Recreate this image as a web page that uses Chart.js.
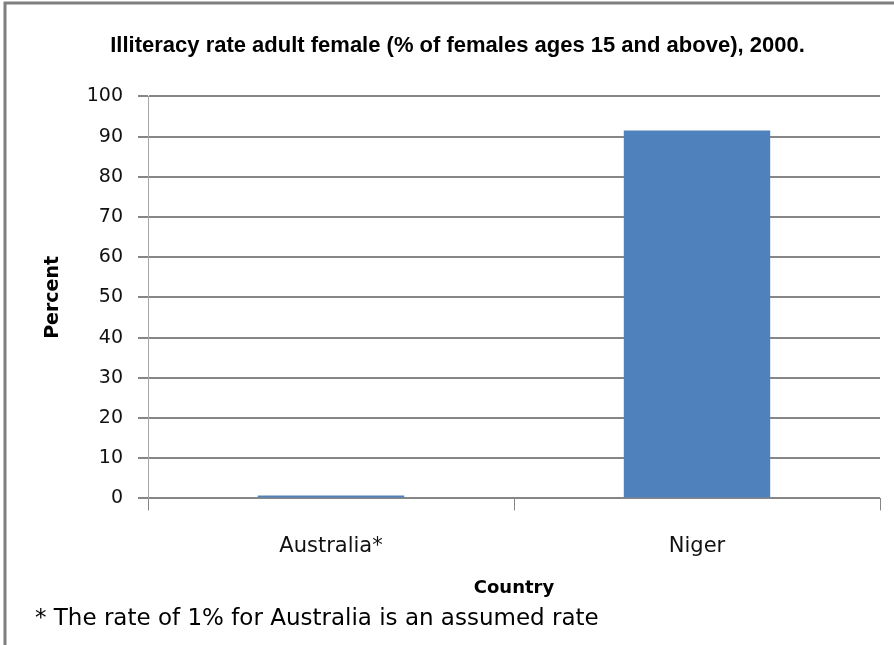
<!DOCTYPE html>
<html>
<head>
<meta charset="utf-8">
<script src="https://cdn.jsdelivr.net/npm/chart.js@4/dist/chart.umd.min.js"></script>
<style>
  html, body { margin: 0; padding: 0; background: #fff; }
  #wrap { width: 894px; height: 645px; }
</style>
</head>
<body>
<div id="wrap"><canvas id="chart" width="894" height="645"></canvas></div>
<script>
// data
const countries = ["Australia*", "Niger"];
const illiteracyRate = [0.7, 91.5];
const yTicks = [0, 10, 20, 30, 40, 50, 60, 70, 80, 90, 100];

const chartTitle = "Illiteracy rate adult female (% of females ages 15 and above), 2000.";
const footnote = "* The rate of 1% for Australia is an assumed rate";

const FONT = "'DejaVu Sans', Verdana, sans-serif";
const TITLE_FONT = "'Liberation Sans', Arial, sans-serif";

// grey frame on the left and top edges, like the original screenshot
const frame = {
  id: "frame",
  afterDraw(chart) {
    const ctx = chart.ctx;
    ctx.save();
    ctx.strokeStyle = "#7f7f7f";
    ctx.lineWidth = 3;
    ctx.beginPath();
    ctx.moveTo(5, 645);
    ctx.lineTo(5, 3);
    ctx.lineTo(894, 3);
    ctx.stroke();
    ctx.restore();
  }
};

new Chart(document.getElementById("chart"), {
  type: "bar",
  data: {
    labels: countries,
    datasets: [{
      label: "Illiteracy rate",
      data: illiteracyRate,
      backgroundColor: "#4F81BD",
      borderWidth: 0,
      categoryPercentage: 1,
      barPercentage: 0.4
    }]
  },
  plugins: [frame],
  options: {
    responsive: false,
    animation: false,
    layout: { padding: { left: 35, right: 14, top: 0, bottom: 0 } },
    plugins: {
      legend: { display: false },
      tooltip: { enabled: false },
      title: {
        display: true,
        text: chartTitle,
        color: "#000",
        font: { family: TITLE_FONT, size: 22, weight: "bold" },
        padding: { top: 33, bottom: 37 }
      },
      subtitle: {
        display: true,
        position: "bottom",
        align: "start",
        text: footnote,
        color: "#000",
        font: { family: FONT, size: 23, weight: "normal" },
        padding: { top: 0, bottom: 12 }
      }
    },
    scales: {
      x: {
        afterFit(scale) { scale.height = 107; },
        grid: {
          offset: true,
          drawOnChartArea: false,
          tickLength: 12,
          color: "#868686"
        },
        border: { display: false },
        ticks: {
          color: "#111",
          padding: 24,
          font: { family: FONT, size: 21 }
        },
        title: {
          display: true,
          text: "Country",
          color: "#000",
          font: { family: FONT, size: 18, weight: "bold" },
          padding: { top: 0, bottom: 6 }
        }
      },
      y: {
        min: 0,
        max: 100,
        afterFit(scale) { scale.width = 113; },
        afterBuildTicks(scale) { scale.ticks = yTicks.map(v => ({ value: v })); },
        grid: {
          color: "#868686",
          lineWidth: 2,
          tickLength: 10
        },
        border: { display: true, color: "#a6a6a6", width: 1 },
        ticks: {
          color: "#111",
          padding: 15,
          font: { family: FONT, size: 19 }
        },
        title: {
          display: true,
          text: "Percent",
          color: "#000",
          font: { family: FONT, size: 19, weight: "bold" },
          padding: { top: 7, bottom: 0 }
        }
      }
    }
  }
});
</script>
</body>
</html>
